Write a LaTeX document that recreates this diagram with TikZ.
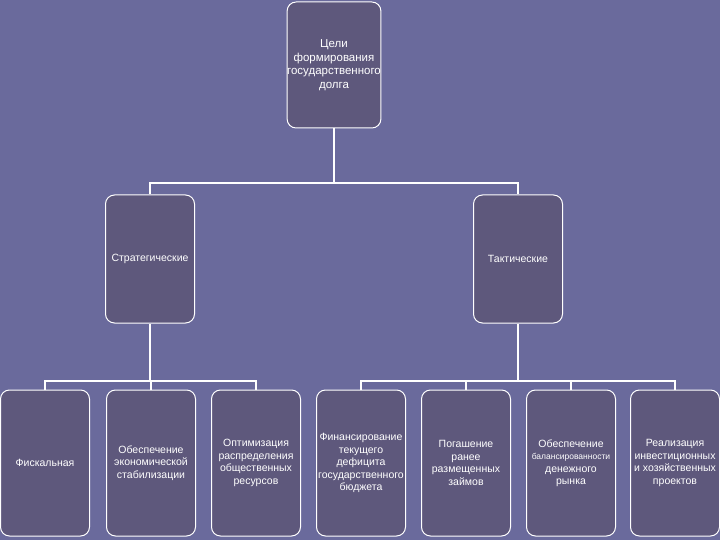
\documentclass[tikz,border=0pt]{standalone}
\usepackage{fontspec}
\setmainfont{Liberation Sans}
\begin{document}
\begin{tikzpicture}[x=1pt,y=-1pt,
 box/.style={draw=white,line width=1pt,fill=boxc,rounded corners=9pt,minimum width=89pt,minimum height=#1,text=white,align=center,font=\fontsize{10.5}{12.5}\selectfont,inner sep=0pt},
 con/.style={draw=white,line width=1.6pt}]
\definecolor{bgc}{HTML}{6A6A9C}
\definecolor{boxc}{HTML}{5E587C}
\fill[bgc] (0,0) rectangle (720,540);
\useasboundingbox (0,0) rectangle (720,540);
\node[box=126pt,font=\fontsize{11.5}{13.5}\selectfont] (top) at (334,65) {Цели\\формирования\\государственного\\долга};
\node[box=128pt] (s) at (150,259) {Стратегические};
\node[box=128pt] (t) at (518,259) {Тактические};
\foreach \n/\x/\t in {b1/45/Фискальная, b2/151/Обеспечение\\экономической\\стабилизации, b3/256/Оптимизация\\распределения\\общественных\\ресурсов, b4/361/Финансирование\\текущего\\дефицита\\государственного\\бюджета, b5/466/Погашение\\ранее\\размещенных\\займов, b6/571/Обеспечение\\{\fontsize{8.5}{10}\selectfont балансированности}\\денежного\\рынка, b7/675/Реализация\\инвестиционных\\и хозяйственных\\проектов}
  \node[box=146pt] (\n) at (\x,463) {\t};
\coordinate (h1) at (0,183);
\coordinate (h2) at (0,381);
\draw[con] (top.south) -- (top.south|-h1);
\draw[con] (s.north) -- (s.north|-h1) -- (t.north|-h1) -- (t.north);
\draw[con] (s.south) -- (s.south|-h2);
\draw[con] (b1.north) -- (b1.north|-h2) -- (b3.north|-h2) -- (b3.north);
\draw[con] (b2.north) -- (b2.north|-h2);
\draw[con] (t.south) -- (t.south|-h2);
\draw[con] (b4.north) -- (b4.north|-h2) -- (b7.north|-h2) -- (b7.north);
\foreach \n in {b5,b6} \draw[con] (\n.north) -- (\n.north|-h2);
\end{tikzpicture}
\end{document}
